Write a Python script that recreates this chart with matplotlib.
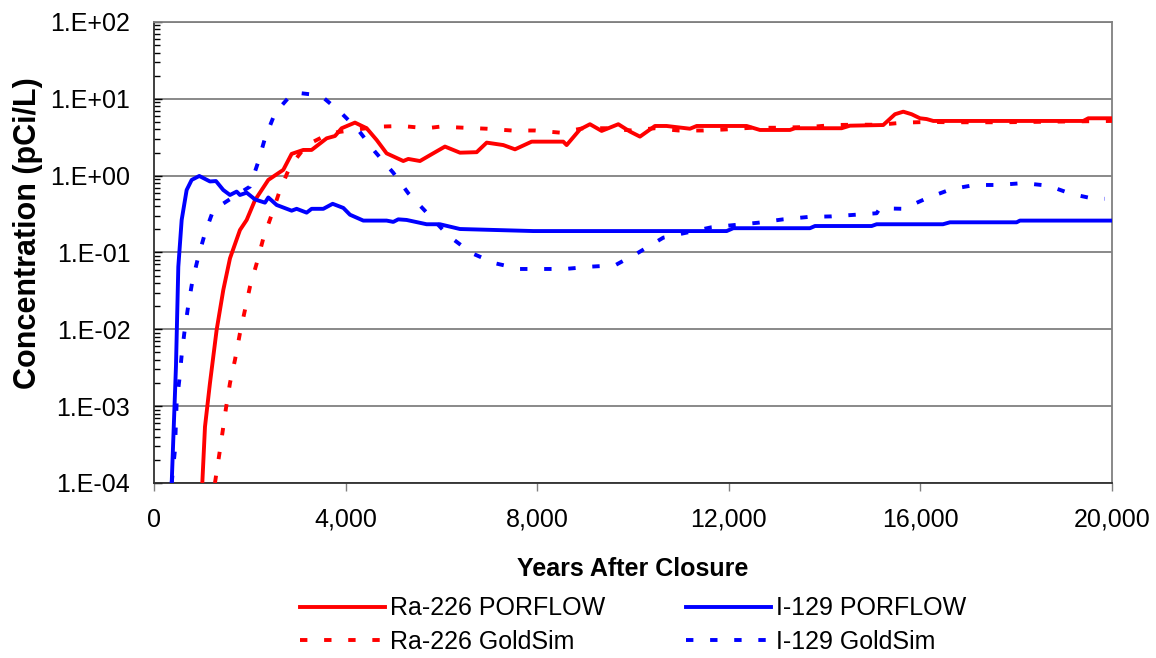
import numpy as np
import matplotlib
matplotlib.use("Agg")
import matplotlib.pyplot as plt
from matplotlib.ticker import FixedLocator, LogLocator, NullFormatter, FuncFormatter

plt.rcParams['font.family'] = ['Liberation Sans', 'DejaVu Sans']

# Ra-226 PORFLOW
ra_porflow_yr = [1009, 1065, 1169, 1308, 1447, 1587, 1795, 1935, 2109, 2387,
                 2700, 2874, 3117, 3291, 3605, 3779, 3918, 4196, 4440, 4649,
                 4857, 5205, 5309, 5553, 5797, 6075, 6388, 6737, 6946, 7293,
                 7537, 7885, 8545, 8615, 8894, 9102, 9346, 9694, 9937, 10146,
                 10459, 10702, 11190, 11330, 12373, 12651, 13277, 13382, 14356, 14530,
                 15225, 15470, 15643, 15817, 15992, 16131, 16270, 19401, 19506, 20000]
ra_porflow = [1e-4, 5.4e-4, 2.0e-3, 9.8e-3, 0.0325, 0.084, 0.196, 0.265, 0.48, 0.88,
              1.19, 1.92, 2.16, 2.16, 3.06, 3.28, 4.14, 4.9, 4.14, 2.91,
              1.95, 1.55, 1.65, 1.55, 1.9, 2.39, 1.99, 2.02, 2.69, 2.5,
              2.2, 2.77, 2.77, 2.5, 4.0, 4.67, 3.82, 4.67, 3.75, 3.22,
              4.43, 4.43, 4.08, 4.43, 4.43, 3.93, 3.93, 4.14, 4.14, 4.47,
              4.56, 6.3, 6.8, 6.3, 5.58, 5.45, 5.15, 5.15, 5.58, 5.58]

# Ra-226 GoldSim
ra_goldsim_yr = [1273, 1378, 1503, 1587, 1691, 1795, 1900, 2004, 2144, 2283,
                 2457, 2631, 2839, 3187, 3674, 4161, 4683, 5170, 5692, 5970,
                 6946, 7467, 7954, 8476, 8963, 9450, 9972, 10459, 10946, 11469,
                 11956, 12478, 12965, 13695, 14182, 14669, 15156, 15643, 16166, 16688,
                 17697, 20000]
ra_goldsim = [1e-4, 2.7e-4, 9.4e-4, 2e-3, 4e-3, 8.9e-3, 0.0179, 0.0359, 0.072, 0.153,
              0.31, 0.65, 1.31, 2.5, 3.56, 3.93, 4.34, 4.43, 4.14, 4.34,
              4.08, 3.87, 3.87, 3.63, 4.14, 4.14, 3.87, 4.14, 3.87, 3.87,
              4.0, 4.2, 4.2, 4.3, 4.56, 4.6, 4.6, 4.9, 5.0, 4.95,
              4.95, 5.15]

# I-129 PORFLOW
i_porflow_yr = [370, 459, 508, 578, 682, 787, 946, 1169, 1294, 1447,
                1587, 1726, 1795, 1935, 2109, 2317, 2387, 2561, 2874, 2978,
                3187, 3291, 3535, 3730, 3953, 4092, 4370, 4857, 4996, 5100,
                5274, 5692, 5970, 6388, 7919, 11956, 12094, 13695, 13800, 14983,
                15087, 16472, 16618, 18010, 18079, 20000]
i_porflow = [1e-4, 3.3e-3, 0.065, 0.265, 0.65, 0.88, 0.99, 0.84, 0.85, 0.65,
             0.56, 0.62, 0.56, 0.6, 0.49, 0.445, 0.52, 0.415, 0.35, 0.37,
             0.33, 0.37, 0.37, 0.43, 0.38, 0.31, 0.26, 0.26, 0.25, 0.27,
             0.265, 0.233, 0.233, 0.202, 0.19, 0.19, 0.207, 0.207, 0.221, 0.221,
             0.233, 0.233, 0.247, 0.247, 0.26, 0.26]

# I-129 GoldSim
i_goldsim_yr = [370, 438, 473, 529, 578, 633, 717, 800, 925, 1065,
                1239, 1600, 1800, 2004, 2178, 2317, 2526, 2874, 2978, 3396,
                3500, 3883, 4265, 4614, 4996, 5309, 5727, 6144, 6633, 7119,
                7641, 8580, 9137, 9624, 10111, 10633, 11643, 12129, 12616, 13138,
                13660, 14148, 14655, 15087, 15156, 15643, 16131, 16653, 17140, 17627,
                18148, 18670, 19158, 19645, 19850]
i_goldsim = [1e-4, 2.7e-4, 1.09e-3, 2.19e-3, 4.6e-3, 8.9e-3, 0.0207, 0.0417, 0.088, 0.178,
             0.357, 0.5, 0.6, 0.72, 1.52, 3.06, 6.5, 11.5, 12.0, 11.2,
             10.8, 6.8, 3.93, 2.05, 1.09, 0.59, 0.314, 0.166, 0.098, 0.0724,
             0.061, 0.061, 0.0655, 0.068, 0.0995, 0.156, 0.213, 0.228, 0.244, 0.27,
             0.29, 0.295, 0.31, 0.324, 0.376, 0.37, 0.507, 0.67, 0.756, 0.756,
             0.8, 0.74, 0.577, 0.497, 0.5]

y_ticks = [1e-4, 1e-3, 1e-2, 1e-1, 1e0, 1e1, 1e2]
y_tick_labels = ["1.E-04", "1.E-03", "1.E-02", "1.E-01", "1.E+00", "1.E+01", "1.E+02"]
x_ticks = [0, 4000, 8000, 12000, 16000, 20000]

fig = plt.figure(figsize=(11.56, 6.58), dpi=100)
ax = fig.add_axes([0.1332, 0.266, 0.8287, 0.7006])

dash = (0, (1.9, 4.3))
lw = 2.8
l1, = ax.plot(ra_porflow_yr, ra_porflow, color='#ff0000', lw=lw, label='Ra-226 PORFLOW', zorder=4)
l2, = ax.plot(ra_goldsim_yr, ra_goldsim, color='#ff0000', lw=lw, ls=dash, label='Ra-226 GoldSim', zorder=3)
l3, = ax.plot(i_porflow_yr, i_porflow, color='#0000ff', lw=lw, label='I-129 PORFLOW', zorder=4)
l4, = ax.plot(i_goldsim_yr, i_goldsim, color='#0000ff', lw=lw, ls=dash, label='I-129 GoldSim', zorder=3)

ax.set_yscale('log')
ax.set_ylim(1e-4, 1e2)
ax.set_xlim(0, 20000)

ax.yaxis.set_major_locator(FixedLocator(y_ticks))
ax.set_yticklabels(y_tick_labels)
ax.yaxis.set_minor_locator(LogLocator(base=10, subs=np.arange(2, 10)))
ax.yaxis.set_minor_formatter(NullFormatter())
ax.set_xticks(x_ticks)
ax.xaxis.set_major_formatter(FuncFormatter(lambda v, p: "{:,.0f}".format(v)))

ax.grid(True, which='major', axis='y', color='#808080', lw=1.3, zorder=1)
ax.tick_params(axis='y', which='major', direction='in', length=6, width=1, pad=17, labelsize=18)
ax.tick_params(axis='y', which='minor', direction='in', length=4, width=1)
ax.tick_params(axis='x', which='major', direction='out', length=6, width=1, pad=12, labelsize=18,
               color='#808080')

for s in ['top', 'right']:
    ax.spines[s].set_color('#808080')
    ax.spines[s].set_linewidth(1.3)
for s in ['left', 'bottom']:
    ax.spines[s].set_color('#303030')
    ax.spines[s].set_linewidth(1.3)

ax.set_xlabel('Years After Closure', fontsize=18, fontweight='bold', labelpad=18)
ax.set_ylabel('Concentration (pCi/L)', fontsize=22, fontweight='bold')
ax.yaxis.set_label_coords(-0.116, 0.542)

fig.legend([l1, l2, l3, l4], [l1.get_label(), l2.get_label(), l3.get_label(), l4.get_label()],
           ncol=2, loc='center', bbox_to_anchor=(0.5476, 0.050), frameon=False,
           fontsize=18, handlelength=3.4, handletextpad=0.2, columnspacing=3.2,
           labelspacing=0.38, borderpad=0.1)

fig.savefig('out.png', dpi=100)
